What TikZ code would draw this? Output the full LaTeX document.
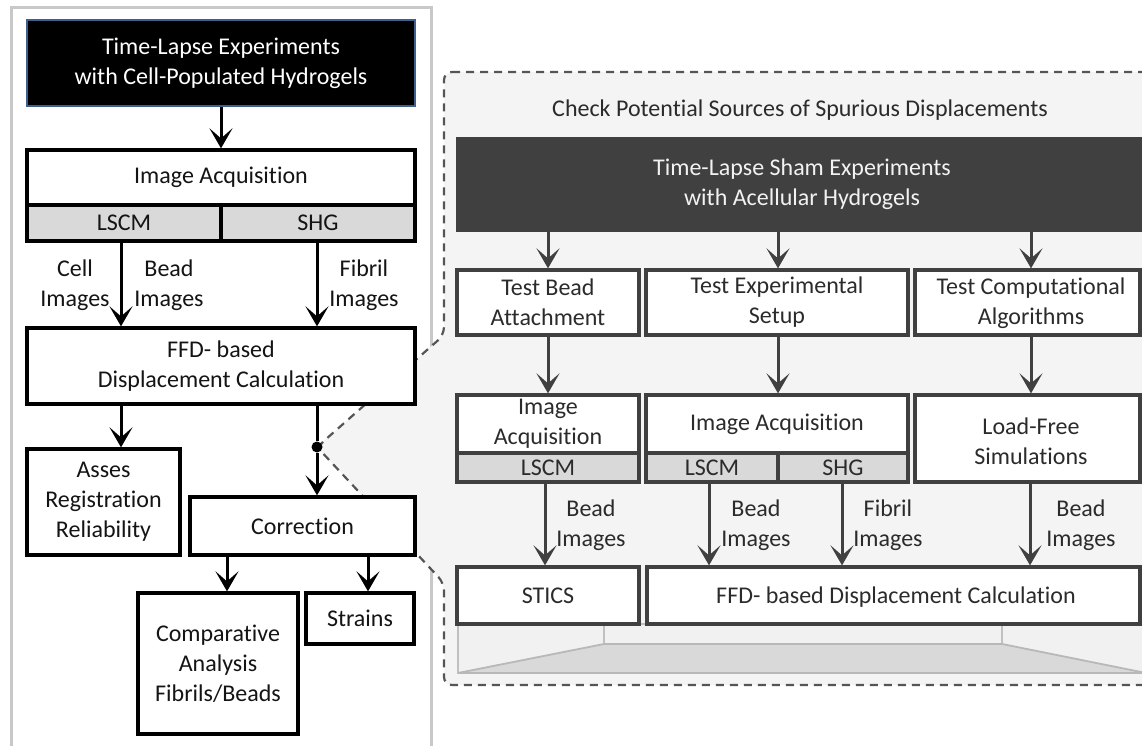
\documentclass[tikz,border=0pt]{standalone}
\usepackage{fontspec}
\setmainfont{Carlito}[Ligatures={NoCommon}]
\usetikzlibrary{arrows.meta}
\definecolor{dgray}{HTML}{404040}
\definecolor{panelfill}{HTML}{F4F4F4}
\definecolor{lsgray}{HTML}{D9D9D9}
\definecolor{framegray}{HTML}{C8C8C8}
\definecolor{dashgray}{HTML}{555555}
\definecolor{rtext}{HTML}{2B2B2B}
\definecolor{ltext}{HTML}{141414}
\definecolor{blueedge}{HTML}{3F5F8F}
\definecolor{basefill}{HTML}{F1F1F1}
\definecolor{baseedge}{HTML}{C0C0C0}
\definecolor{trapfill}{HTML}{D9D9D9}
\definecolor{trapedge}{HTML}{B8B8B8}
\newcommand\mkbox[7]{\node[#1, minimum width={(#5)-(#3)}, minimum height={(#6)-(#4)}] (#2) at ({((#3)+(#5))/2},{((#4)+(#6))/2}) {#7};}
\begin{document}
\begin{tikzpicture}[x=1pt,y=-1pt,
  font=\fontsize{24}{30}\selectfont,
  lbox/.style={draw=black, line width=3.3pt, fill=white, inner sep=0pt, align=center, text=ltext},
  lgbox/.style={lbox, fill=lsgray},
  rbox/.style={draw=dgray, line width=3.3pt, fill=white, inner sep=0pt, align=center, text=rtext},
  rgbox/.style={rbox, fill=lsgray},
  larrow/.style={draw=black, line width=3pt, -{Stealth[length=20pt,width=23pt,inset=10pt]}},
  rarrow/.style={draw=dgray, line width=3pt, -{Stealth[length=20pt,width=23pt,inset=10pt]}},
  llabel/.style={align=center, text=ltext, inner sep=0pt},
  rlabel/.style={align=center, text=rtext, inner sep=0pt},
  dashline/.style={draw=dashgray, line width=2.2pt, dash pattern=on 8pt off 6pt},
]
\useasboundingbox (0,0) rectangle (1142,746);
\clip (0,0) rectangle (1142,746);
\fill[white] (0,0) rectangle (1142,746);

% left panel frame
\draw[framegray, line width=3pt] (11,8) rectangle (431,770);

% right dashed panel
\path[dashline, fill=panelfill, rounded corners=8pt]
  (444,72) -- (1160,72) -- (1160,685) -- (444,685) -- (444,583) -- (317,447) -- (444,335) -- cycle;

% ---------- left column ----------
\mkbox{draw=blueedge, line width=1.5pt, fill=black, text=white, align=center, inner sep=0pt}{top1}{27}{20}{415}{106}{Time-Lapse Experiments\\with Cell-Populated Hydrogels}
\mkbox{lbox}{imgacq}{27}{150}{415}{205}{Image Acquisition}
\mkbox{lgbox}{lscm1}{27}{205}{221}{241}{LSCM}
\mkbox{lgbox}{shg1}{221}{205}{415}{241}{SHG}
\mkbox{lbox}{ffd1}{27}{328}{415}{404}{FFD- based\\Displacement Calculation}
\mkbox{lbox}{asses}{27}{449}{180}{555}{Asses\\Registration\\Reliability}
\mkbox{lbox}{corr}{190}{497}{415}{555}{Correction}
\mkbox{lbox}{comp}{138}{593}{298}{734}{Comparative\\Analysis\\Fibrils/Beads}
\mkbox{lbox}{strains}{306}{593}{414}{644}{Strains}

\node[llabel] (lcell) at (75,285) {Cell\\Images};
\node[llabel] (lbead) at (169,285) {Bead\\Images};
\node[llabel] (lfib) at (364,285) {Fibril\\Images};

\node[circle, fill=black, inner sep=0pt, minimum size=11pt] (dot) at (317,447) {};
\coordinate (xa) at (121,0);
\coordinate (xc1) at (227,0);
\coordinate (xc2) at (368,0);

\draw[larrow] (top1.south) -- (imgacq.north);
\draw[larrow] (lscm1.south -| xa) -- (ffd1.north -| xa);
\draw[larrow] (shg1.south -| dot) -- (ffd1.north -| dot);
\draw[larrow] (ffd1.south -| xa) -- (asses.north -| xa);
\draw[larrow] (ffd1.south -| dot) -- (dot) -- (corr.north -| dot);
\draw[larrow] (corr.south -| xc1) -- (comp.north -| xc1);
\draw[larrow] (corr.south -| xc2) -- (strains.north -| xc2);

% ---------- right panel ----------
\node[text=rtext, inner sep=0pt] (title) at (800,110) {Check Potential Sources of Spurious Displacements};
\mkbox{draw=none, fill=dgray, text=white!95!black, align=center, inner sep=0pt}{sham}{456}{137}{1160}{232}{}
\node[text=white!95!black, align=center, inner sep=0pt] (shamtxt) at (802,184.5) {Time-Lapse Sham Experiments\\with Acellular Hydrogels};

\mkbox{rbox}{tb1}{457}{270}{639}{335}{Test Bead\\Attachment}
\mkbox{rbox}{tb2}{646}{270}{908}{335}{Test Experimental\\Setup}
\node[rbox, minimum width=225pt, minimum height=65pt] (tb3) at (1027.5,302.5) {};
\node[rlabel] (tb3txt) at (1031,303) {Test Computational\\Algorithms};

\mkbox{rbox}{ia2}{457}{395}{639}{453}{Image\\Acquisition}
\mkbox{rgbox}{ls2}{457}{453}{639}{482}{LSCM}
\mkbox{rbox}{ia3}{646}{395}{908}{453}{Image Acquisition}
\mkbox{rgbox}{ls3}{646}{453}{778}{482}{LSCM}
\mkbox{rgbox}{sh3}{778}{453}{908}{482}{SHG}
\mkbox{rbox}{lf}{915}{395}{1140}{482}{}
\node[rlabel] (lftxt) at (1031,441) {Load-Free\\Simulations};

% base platform
\draw[baseedge, line width=1.5pt, fill=basefill] (458,624) rectangle (1150,673);
\draw[baseedge, line width=1.5pt] (604,624) -- (604,644);
\draw[baseedge, line width=1.5pt] (1002,624) -- (1002,644);
\draw[trapedge, line width=1.8pt, fill=trapfill] (604,644) -- (1002,644) -- (1146,673) -- (458,673) -- cycle;

\mkbox{rbox}{stics}{457}{567}{639}{624}{STICS}
\mkbox{rbox}{ffd2}{647}{567}{1140}{624}{}
\node[rlabel] (ffd2txt) at (896,597) {FFD- based Displacement Calculation};

\node[rlabel] (rb1) at (591,525) {Bead\\Images};
\node[rlabel] (rb2) at (756,525) {Bead\\Images};
\node[rlabel] (rf3) at (888,525) {Fibril\\Images};
\node[rlabel] (rb4) at (1081,525) {Bead\\Images};

\coordinate (xr1) at (548,0);
\coordinate (xr2) at (778,0);
\coordinate (xr3) at (1031,0);
\coordinate (xs1) at (545,0);
\coordinate (xs2) at (709,0);
\coordinate (xs3) at (842,0);
\coordinate (xs4) at (1030,0);

\draw[rarrow] (sham.south -| xr1) -- (tb1.north -| xr1);
\draw[rarrow] (sham.south -| xr2) -- (tb2.north -| xr2);
\draw[rarrow] (sham.south -| xr3) -- (tb3.north -| xr3);
\draw[rarrow] (tb1.south -| xr1) -- (ia2.north -| xr1);
\draw[rarrow] (tb2.south -| xr2) -- (ia3.north -| xr2);
\draw[rarrow] (tb3.south -| xr3) -- (lf.north -| xr3);
\draw[rarrow] (ls2.south -| xs1) -- (stics.north -| xs1);
\draw[rarrow] (ls3.south -| xs2) -- (ffd2.north -| xs2);
\draw[rarrow] (sh3.south -| xs3) -- (ffd2.north -| xs3);
\draw[rarrow] (lf.south -| xs4) -- (ffd2.north -| xs4);
\end{tikzpicture}
\end{document}
